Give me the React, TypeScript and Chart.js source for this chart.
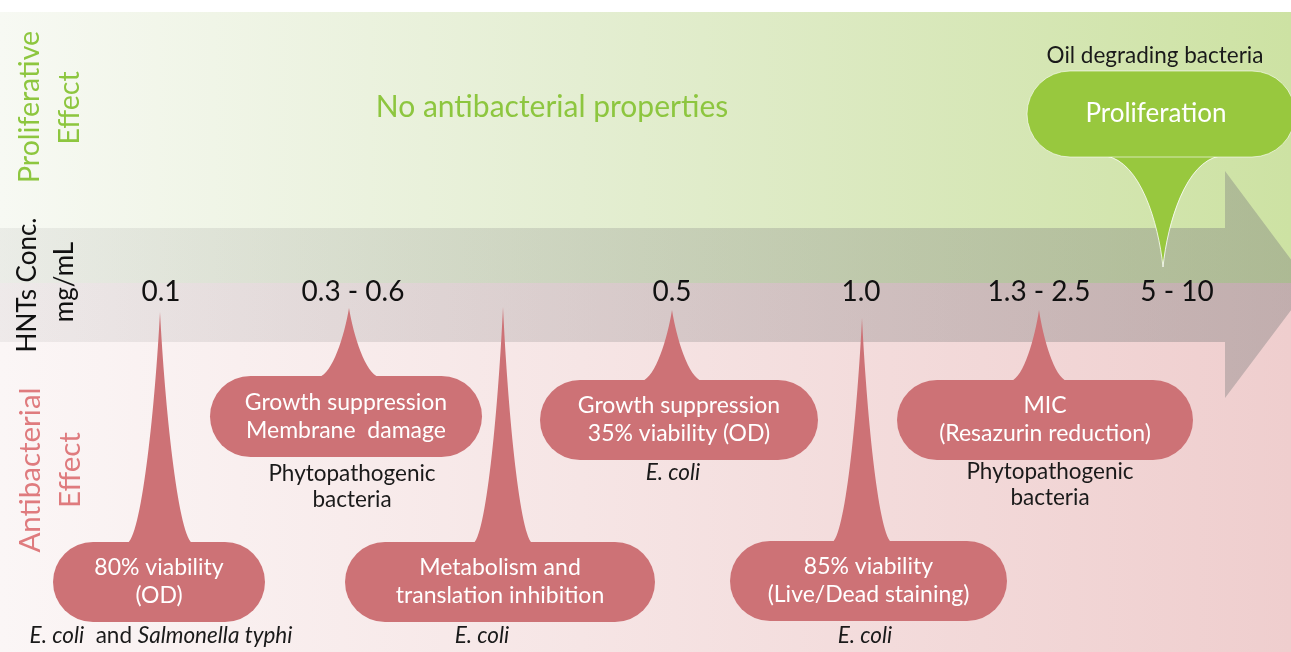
import React, { useEffect, useRef } from "react";
import { Chart, registerables } from "chart.js";
Chart.register(...registerables);

const W = 1291;
const H = 652;
const FONT = "Lato";

// Concentration axis labels (HNTs, mg/mL) and their positions along the arrow
const concLabels = ["0.1", "0.3 - 0.6", "0.5", "1.0", "1.3 - 2.5", "5 - 10"];
const concLabelX = [161, 353, 672, 861, 1039, 1177];
const concLabelY = 292;

// Callouts: effect text, organism, kind
const calloutText: string[][] = [
  ["80% viability", "(OD)"],
  ["Growth suppression", "Membrane  damage"],
  ["Metabolism and", "translation inhibition"],
  ["Growth suppression", "35% viability (OD)"],
  ["85% viability", "(Live/Dead staining)"],
  ["MIC", "(Resazurin reduction)"],
  ["Proliferation"],
];
// organism lines: each line is a list of [text, italic]
const calloutOrganism: [string, boolean][][][] = [
  [[["E. coli", true], ["  and ", false], ["Salmonella typhi", true]]],
  [[["Phytopathogenic", false]], [["bacteria", false]]],
  [[["E. coli", true]]],
  [[["E. coli", true]]],
  [[["E. coli", true]]],
  [[["Phytopathogenic", false]], [["bacteria", false]]],
  [[["Oil degrading bacteria", false]]],
];
const calloutKind = ["anti", "anti", "anti", "anti", "anti", "anti", "pro"];

// Layout of callouts (axis units of the diagram)
const tipX = [160, 349, 503, 672, 862, 1039, 1163];
const tipY = [312, 308, 307, 310, 318, 310, 267];
const bubbleX0 = [53, 210, 345, 540, 730, 897, 1027];
const bubbleX1 = [265, 482, 655, 818, 1007, 1193, 1295];
const bubbleY0 = [542, 376, 542, 380, 541, 380, 71];
const bubbleY1 = [622, 457, 622, 460, 621, 460, 157];
const spikeHalf = [32, 30, 29, 30, 29, 28, 57];
const organismX = [161, 352, 482, 673, 865, 1050, 1155];
const organismY = [636, 474, 636, 473, 636, 472, 56];

const PINK = "#cd7276";
const GREEN = "#98c83e";
const GREEN_TEXT = "#8dc63f";
const PINK_TEXT = "#df7b7e";

function spikePath(ctx: CanvasRenderingContext2D, tx: number, ty: number, baseY: number, hw: number, a: number, b: number) {
  const h = baseY - ty;
  ctx.moveTo(tx - hw, baseY);
  ctx.bezierCurveTo(tx - hw * a, baseY - h * 0.05, tx - hw * b, baseY - h * 0.6, tx, ty);
  ctx.bezierCurveTo(tx + hw * b, baseY - h * 0.6, tx + hw * a, baseY - h * 0.05, tx + hw, baseY);
}

function drawMixed(ctx: CanvasRenderingContext2D, segs: [string, boolean][], cx: number, y: number, size: number) {
  const fonts = segs.map(([, it]) => `${it ? "italic " : ""}${size}px ${FONT}`);
  let total = 0;
  const widths = segs.map(([t], i) => {
    ctx.font = fonts[i];
    const w = ctx.measureText(t).width;
    total += w;
    return w;
  });
  let x = cx - total / 2;
  ctx.textAlign = "left";
  segs.forEach(([t], i) => {
    ctx.font = fonts[i];
    ctx.fillText(t, x, y);
    x += widths[i];
  });
}

const diagramPlugin = {
  id: "diagram",
  beforeDatasetsDraw(chart: any) {
    const ctx: CanvasRenderingContext2D = chart.ctx;
    const sx = chart.scales.x;
    const sy = chart.scales.y;
    const X = (v: number) => sx.getPixelForValue(v);
    const Y = (v: number) => sy.getPixelForValue(v);
    ctx.save();
    ctx.fillStyle = "#ffffff";
    ctx.fillRect(0, 0, W, H);
    // proliferative band
    let g = ctx.createLinearGradient(X(0), 0, X(W), 0);
    g.addColorStop(0, "#f7f9f3");
    g.addColorStop(0.45, "#e4eed2");
    g.addColorStop(1, "#cde2a3");
    ctx.fillStyle = g;
    ctx.fillRect(X(0), Y(12), X(W) - X(0), Y(283) - Y(12));
    // antibacterial band
    g = ctx.createLinearGradient(X(0), 0, X(W), 0);
    g.addColorStop(0, "#fbf6f6");
    g.addColorStop(0.45, "#f6e5e5");
    g.addColorStop(1, "#efcece");
    ctx.fillStyle = g;
    ctx.fillRect(X(0), Y(283), X(W) - X(0), Y(H) - Y(283));
    // concentration arrow
    g = ctx.createLinearGradient(X(0), 0, X(W), 0);
    g.addColorStop(0, "rgba(125,125,125,0.10)");
    g.addColorStop(1, "rgba(125,125,125,0.40)");
    ctx.fillStyle = g;
    ctx.beginPath();
    ctx.moveTo(X(0), Y(228));
    ctx.lineTo(X(1225), Y(228));
    ctx.lineTo(X(1225), Y(171));
    ctx.lineTo(X(1310), Y(285));
    ctx.lineTo(X(1225), Y(398));
    ctx.lineTo(X(1225), Y(342));
    ctx.lineTo(X(0), Y(342));
    ctx.closePath();
    ctx.fill();

    // side labels (rotated)
    const rot = (t: string, x: number, y: number, color: string, size: number) => {
      ctx.save();
      ctx.translate(X(x), Y(y));
      ctx.rotate(-Math.PI / 2);
      ctx.fillStyle = color;
      ctx.font = `${size}px ${FONT}`;
      ctx.textAlign = "center";
      ctx.textBaseline = "middle";
      ctx.fillText(t, 0, 0);
      ctx.restore();
    };
    rot("Proliferative", 30, 107, GREEN_TEXT, 28.5);
    rot("Effect", 70, 108, GREEN_TEXT, 28.5);
    rot("HNTs Conc.", 28, 285, "#111111", 26);
    rot("mg/mL", 65, 282, "#111111", 26);
    rot("Antibacterial", 30, 470, PINK_TEXT, 29.5);
    rot("Effect", 70, 470, PINK_TEXT, 29.5);

    // headline
    ctx.fillStyle = GREEN_TEXT;
    ctx.font = `30px ${FONT}`;
    ctx.textAlign = "center";
    ctx.textBaseline = "middle";
    ctx.fillText("No antibacterial properties", X(552), Y(107));

    // concentration labels
    ctx.fillStyle = "#111111";
    ctx.font = `28px ${FONT}`;
    concLabels.forEach((t, i) => ctx.fillText(t, X(concLabelX[i]), Y(concLabelY)));
    ctx.restore();
  },
  afterDatasetsDraw(chart: any) {
    const ctx: CanvasRenderingContext2D = chart.ctx;
    const sx = chart.scales.x;
    const sy = chart.scales.y;
    const X = (v: number) => sx.getPixelForValue(v);
    const Y = (v: number) => sy.getPixelForValue(v);
    const meta = chart.getDatasetMeta(0);
    ctx.save();
    calloutText.forEach((lines, i) => {
      const pt = meta.data[i];
      const tx = pt.x;
      const ty = pt.y;
      const pro = calloutKind[i] === "pro";
      const x0 = X(bubbleX0[i]);
      const x1 = X(bubbleX1[i]);
      const y0 = Y(bubbleY0[i]);
      const y1 = Y(bubbleY1[i]);
      const hw = X(tipX[i] + spikeHalf[i]) - X(tipX[i]);
      const baseY = pro ? y1 - 1 : y0 + 1;
      const a = pro ? 0.4 : 0.55;
      const b = pro ? 0.08 : 0.15;
      ctx.fillStyle = pro ? GREEN : PINK;
      // spike
      ctx.beginPath();
      spikePath(ctx, tx, ty, baseY, hw, a, b);
      ctx.lineTo(tx + hw, pro ? baseY - 6 : baseY + 6);
      ctx.lineTo(tx - hw, pro ? baseY - 6 : baseY + 6);
      ctx.closePath();
      ctx.fill();
      if (pro) {
        ctx.beginPath();
        spikePath(ctx, tx, ty, baseY, hw, a, b);
        ctx.strokeStyle = "rgba(255,255,255,0.8)";
        ctx.lineWidth = 1;
        ctx.stroke();
      }
      // bubble
      ctx.beginPath();
      ctx.roundRect(x0, y0, x1 - x0, y1 - y0, (y1 - y0) / 2);
      ctx.fill();
      if (pro) {
        ctx.strokeStyle = "rgba(255,255,255,0.6)";
        ctx.stroke();
      }
      // text in bubble
      ctx.fillStyle = "#ffffff";
      ctx.textAlign = "center";
      ctx.textBaseline = "middle";
      const size = pro ? 26 : 23;
      ctx.font = `${size}px ${FONT}`;
      const cx = (x0 + x1) / 2 - (pro ? 5 : 0);
      const cy = (y0 + y1) / 2;
      const lh = 28;
      lines.forEach((t, k) => {
        ctx.fillText(t, cx, cy + (k - (lines.length - 1) / 2) * lh);
      });
      // organism
      ctx.fillStyle = "#1a1a1a";
      calloutOrganism[i].forEach((segs, k) => {
        drawMixed(ctx, segs, X(organismX[i]), Y(organismY[i]) + k * 26, 22.5);
      });
    });
    ctx.restore();
  },
};

export default function App() {
  const ref = useRef<HTMLCanvasElement>(null);
  useEffect(() => {
    document.body.style.margin = "0";
    const canvas = ref.current!;
    const chart = new Chart(canvas, {
      type: "scatter",
      data: {
        datasets: [
          {
            label: "callouts",
            data: tipX.map((x, i) => ({ x, y: tipY[i] })),
            pointRadius: 0,
            showLine: false,
          },
        ],
      },
      options: {
        responsive: false,
        animation: false,
        devicePixelRatio: 1,
        layout: { padding: 0 },
        plugins: { legend: { display: false }, tooltip: { enabled: false } },
        scales: {
          x: { type: "linear", min: 0, max: W, display: false },
          y: { type: "linear", min: 0, max: H, reverse: true, display: false },
        },
      },
      plugins: [diagramPlugin],
    });
    return () => chart.destroy();
  }, []);
  return <canvas ref={ref} width={W} height={H} style={{ display: "block" }} />;
}
